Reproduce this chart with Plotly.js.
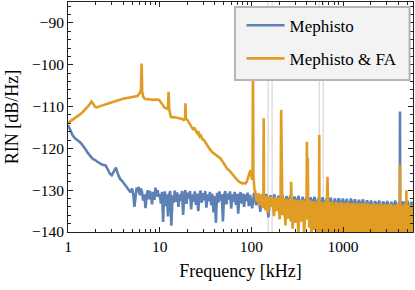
<!DOCTYPE html>
<html>
<head>
<meta charset="utf-8">
<script src="https://cdn.plot.ly/plotly-3.0.1.min.js"></script>
<style>html,body{margin:0;padding:0;background:#fff;}#chart{width:415px;height:290px;}</style>
</head>
<body>
<div id="chart"></div>
<script>
// ---- data (frequency in kHz, RIN in dB/Hz) ----
var seriesNames = ["Mephisto", "Mephisto & FA"];

var blueFreq = [
 1.00,1.06,1.12,1.18,1.24,1.31,1.38,1.45,1.53,1.61,1.70,1.79,1.88,1.98,2.09,2.20,2.32,2.44,2.57,2.71,
 2.85,3.00,3.16,3.33,3.51,3.70,3.90,4.11,4.33,4.56,4.80,5.00,5.15,5.30,5.45,5.60,5.75,5.90,6.05,6.20,
 6.40,6.60,6.80,7.00,7.20,7.40,7.60,7.80,8.00,8.25,8.50,8.75,9.00,9.25,9.50,9.75,
 10.0,10.3,10.6,10.9,11.1,11.4,11.7,12.0,12.3,12.6,13.0,13.4,13.8,14.2,14.6,15.0,15.5,16.0,16.5,17.0,
 17.5,18.0,18.5,19.0,19.6,20.2,20.8,21.4,22.0,22.7,23.4,24.1,24.8,25.5,26.3,27.1,27.9,28.7,29.6,30.5,
 31.4,32.3,33.3,34.3,35.3,36.4,37.5,38.6,39.8,41.0,42.2,43.5,44.8,46.1,47.5,48.9,50.4,51.9,53.5,55.1,
 56.7,58.4,60.2,62.0,63.8,65.7,67.7,69.7,71.8,74.0,76.2,78.5,80.8,83.2,85.7,88.3,90.9,93.6,96.4,99.3,
 102,107,113,119,125,131,138,145,153,161,169,178,187,197,207,218,229,241,253,266,
 280,295,310,326,343,361,380,400,420,442,465,489,514,541,569,599,630,663,697,733,
 771,811,853,898,944,993,1045,1099,1156,1216,1279,1346,1416,1489,1567,1648,1734,1824,1918,2018,
 2123,2233,2349,2471,2600,2735,2877,3026,3184,3349,3523,3706,3899,4101,4150,4170,4190,4240,4314,4538,
 4774,5022,5283,5558,5780
];
var blueRIN = [
 -114.4,-115.8,-116.8,-117.5,-117.8,-118.3,-118.7,-119.2,-120.0,-120.8,-121.6,-122.1,-122.6,-122.8,-123.2,-123.6,-123.8,-124.0,-124.1,-125.0,
 -126.0,-126.4,-125.4,-124.6,-126.2,-127.3,-127.8,-128.5,-128.9,-129.6,-130.5,-129.6,-131.0,-134.0,-131.2,-129.4,-130.5,-129.2,-131.2,-129.6,
 -130.3,-132.5,-131.0,-134.3,-131.4,-130.0,-132.2,-130.2,-131.0,-133.4,-130.4,-132.3,-129.4,-131.5,-130.0,-131.6,
 -131.0,-133.2,-130.4,-137.6,-132.0,-130.3,-133.8,-131.0,-136.3,-131.5,-130.2,-138.5,-131.2,-133.0,-130.1,-132.8,-130.5,-134.0,-131.0,-132.6,
 -130.2,-135.9,-131.3,-130.0,-133.3,-130.6,-132.0,-130.2,-134.6,-131.0,-132.8,-130.3,-133.5,-130.8,-135.0,-131.2,-130.1,-133.0,-130.7,-132.4,
 -130.2,-134.2,-131.0,-132.6,-130.4,-133.6,-130.9,-135.3,-131.4,-137.8,-130.6,-133.0,-130.3,-132.5,-131.0,-137.5,-131.2,-130.2,-133.4,-130.8,
 -132.2,-130.3,-134.4,-131.0,-132.8,-130.4,-133.5,-130.9,-135.6,-131.2,-130.5,-133.2,-130.8,-134.0,-131.0,-132.6,-130.6,-133.8,-131.1,-132.4,
 -134.3,-130.6,-133.6,-130.8,-135.2,-131.0,-133.2,-130.9,-136.5,-131.2,-133.0,-131.0,-134.8,-131.3,-133.4,-131.1,-135.5,-131.4,-133.2,-131.3,
 -134.6,-131.5,-133.5,-131.4,-135.0,-131.6,-133.6,-131.5,-134.2,-131.7,-133.5,-131.6,-134.8,-131.8,-133.7,-131.7,-134.4,-131.9,-133.6,-131.8,
 -134.9,-132.0,-133.8,-131.9,-134.3,-132.0,-133.9,-132.1,-134.6,-132.0,-134.0,-132.2,-134.5,-132.3,-134.1,-132.2,-134.7,-132.4,-134.2,-132.5,
 -134.8,-132.6,-134.3,-132.5,-134.9,-132.7,-134.4,-132.6,-135.0,-132.8,-134.5,-132.5,-135.1,-132.8,-134.0,-111.2,-133.5,-132.6,-134.8,-132.7,
 -135.0,-132.5,-134.9,-132.8,-134.5
];

var orangeFreq = [
 1.00,1.10,1.20,1.33,1.45,1.55,1.64,1.73,1.81,1.90,1.98,2.05,2.15,2.30,2.45,2.59,2.80,3.00,3.32,3.60,
 3.90,4.27,4.70,5.20,5.72,6.06,6.25,6.35,6.45,6.60,6.76,7.00,7.50,8.00,8.32,8.80,9.30,9.84,10.3,10.8,
 11.2,11.6,12.3,12.5,12.7,13.2,13.5,14.2,15.0,16.0,16.9,17.6,18.3,18.9,19.1,19.3,20.0,21.0,22.0,23.0,
 24.0,25.0,25.7,26.5,27.3,28.2,29.1,30.3,31.5,32.8,34.0,35.5,37.0,39.0,40.5,42.0,44.0,46.0,48.0,50.0,
 52.0,54.5,57.0,59.0,62.0,65.0,68.0,71.0,74.0,77.0,80.0,83.0,86.0,89.0,92.0,95.0,97.5,99.5,101.5,103.0,
 104.0,105.0,106.5,108.0,
 110,114,118,123,127,132,135,136,137,141,147,152,158,163,169,176,182,189,196,203,
 208,211,214,218,226,235,243,252,262,268,271,274,281,292,303,314,325,337,350,363,
 376,390,398,403,407,412,416,428,440,451,467,485,503,521,540,546,549,552,560,581,
 603,625,648,668,676,684,697,723,749,777,806,836,867,899,932,966,1002,1039,1078,1117,
 1159,1202,1246,1292,1340,1390,1441,1494,1550,1607,1666,1728,1792,1858,1927,1998,2072,2149,2228,2311,
 2396,2485,2577,2672,2771,2873,2980,3090,3204,3323,3446,3573,3705,3842,3985,4080,4150,4170,4190,4285,
 4444,4608,4779,4880,4900,4920,4956,5139,5329,5527,5731,5780
];
var orangeRIN = [
 -113.9,-113.3,-112.7,-112.0,-111.3,-110.7,-110.0,-109.4,-108.8,-109.5,-110.1,-110.2,-110.0,-109.8,-109.6,-109.45,-109.2,-108.9,-108.7,-108.4,
 -108.2,-108.0,-107.8,-107.6,-107.5,-106.8,-106.0,-99.7,-106.5,-107.6,-108.0,-108.2,-108.2,-108.3,-108.4,-108.3,-108.3,-108.4,-108.9,-109.6,
 -110.2,-110.4,-110.6,-106.5,-110.8,-112.4,-112.6,-112.5,-112.6,-112.7,-112.8,-113.0,-113.2,-113.0,-109.2,-113.0,-113.2,-114.0,-114.6,-115.4,
 -115.2,-116.2,-116.4,-116.0,-117.2,-117.0,-117.8,-118.0,-118.6,-119.4,-119.8,-120.3,-120.8,-121.2,-121.5,-121.8,-122.0,-122.4,-123.0,-123.6,
 -124.4,-124.9,-125.2,-125.6,-126.3,-126.9,-127.3,-127.7,-128.0,-128.2,-128.4,-128.3,-128.4,-128.0,-127.2,-126.0,-125.2,-126.0,-127.5,-125.0,
 -95.0,-126.5,-128.5,-130.0,
 -130.2,-132.8,-130.8,-133.6,-131.0,-134.2,-131.3,-112.8,-131.5,-134.8,-131.4,-135.5,-131.6,-134.0,-131.5,-136.2,-131.7,-135.0,-131.8,-137.0,
 -132.0,-110.8,-132.0,-136.0,-131.9,-138.4,-132.1,-136.8,-132.0,-137.5,-128.0,-132.4,-139.2,-132.2,-137.8,-132.3,-140.5,-132.4,-137.5,-132.3,
 -141.0,-132.5,-137.0,-118.4,-132.0,-122.3,-132.6,-139.0,-132.5,-141.5,-132.6,-139.5,-132.7,-142.5,-132.6,-138.0,-116.8,-132.8,-142.0,-132.7,
 -143.0,-132.8,-141.5,-132.7,-126.8,-133.0,-143.0,-132.8,-142.5,-132.9,-143.5,-132.8,-142.0,-133.0,-143.5,-132.9,-142.5,-133.0,-143.0,-132.9,
 -142.5,-133.1,-143.5,-133.0,-142.0,-133.1,-143.0,-133.2,-142.5,-133.1,-143.5,-133.2,-142.5,-133.1,-143.0,-133.3,-142.5,-133.2,-143.5,-133.3,
 -142.0,-133.2,-143.0,-133.4,-142.5,-133.3,-143.5,-133.4,-142.0,-133.3,-143.0,-133.5,-142.5,-133.3,-143.0,-133.4,-140.0,-124.0,-140.0,-133.5,
 -143.0,-133.4,-142.5,-133.4,-130.0,-142.0,-133.5,-143.0,-133.4,-142.5,-133.5,-142.0
];

// thin grey reference markers (kHz)
var refLineFreq = [152, 168, 548, 606];

// axis ticks
var xMajorTicks = [1, 10, 100, 1000];
var xMajorLabels = ["1", "10", "100", "1000"];
var xMinorTicks = [2,3,4,5,6,7,8,9,20,30,40,50,60,70,80,90,200,300,400,500,600,700,800,900,2000,3000,4000,5000];
var yMajorTicks = [-140, -130, -120, -110, -100, -90];

var colors = ["#5e81b5", "#e19c24"];
var FONT = "Liberation Serif, Times New Roman, serif";

// build reference line trace
var refX = [], refY = [];
refLineFreq.forEach(function (f) { refX.push(f, f, null); refY.push(-140, -85, null); });

var traces = [
  {x: refX, y: refY, mode: "lines", line: {color: "#cfcfcf", width: 1}, showlegend: false, hoverinfo: "skip"},
  {x: blueFreq, y: blueRIN, mode: "lines", name: seriesNames[0], legendgroup: "a",
   line: {color: colors[0], width: 2.6}},
  {x: orangeFreq, y: orangeRIN, mode: "lines", name: seriesNames[1], legendgroup: "b",
   line: {color: colors[1], width: 2.6}}
];

var layout = {
  width: 415, height: 290,
  margin: {l: 68, r: 2, t: 2, b: 58},
  paper_bgcolor: "#fff", plot_bgcolor: "#fff",
  font: {family: FONT, color: "#000", size: 15.5},
  showlegend: true,
  legend: {
    x: 0.503, xanchor: "left", y: 0.975, yanchor: "top",
    bgcolor: "rgba(0,0,0,0)", borderwidth: 0,
    font: {family: FONT, size: 17, color: "#000"},
    traceorder: "grouped", tracegroupgap: 8, itemwidth: 38
  },
  shapes: [
    {type: "rect", xref: "paper", yref: "paper", x0: 0.484, x1: 0.99, y0: 0.661, y1: 0.978,
     fillcolor: "#f3f3f3", line: {color: "#b5b5b5", width: 2}, layer: "above"}
  ],
  xaxis: {
    type: "log", range: [0, 3.762],
    tickmode: "array", tickvals: xMajorTicks, ticktext: xMajorLabels,
    ticks: "inside", ticklen: 5, tickwidth: 1, tickcolor: "#222",
    minor: {tickmode: "array", tickvals: xMinorTicks, ticks: "inside", ticklen: 3, tickwidth: 1, tickcolor: "#222", showgrid: false},
    showline: true, linecolor: "#222", linewidth: 1, mirror: "allticks",
    showgrid: false, zeroline: false,
    tickfont: {family: FONT, size: 15.5, color: "#000"},
    title: {text: "Frequency [kHz]", font: {family: FONT, size: 18, color: "#000"}, standoff: 10}
  },
  yaxis: {
    range: [-140, -85],
    tickmode: "array", tickvals: yMajorTicks,
    ticks: "inside", ticklen: 5, tickwidth: 1, tickcolor: "#222",
    minor: {dtick: 2, ticks: "inside", ticklen: 3, tickwidth: 1, tickcolor: "#222", showgrid: false},
    showline: true, linecolor: "#222", linewidth: 1, mirror: "allticks",
    showgrid: false, zeroline: false,
    tickfont: {family: FONT, size: 15.5, color: "#000"},
    title: {text: "RIN [dB/Hz]", font: {family: FONT, size: 18, color: "#000"}, standoff: 8}
  }
};

Plotly.newPlot("chart", traces, layout, {staticPlot: true, displayModeBar: false});
</script>
</body>
</html>
